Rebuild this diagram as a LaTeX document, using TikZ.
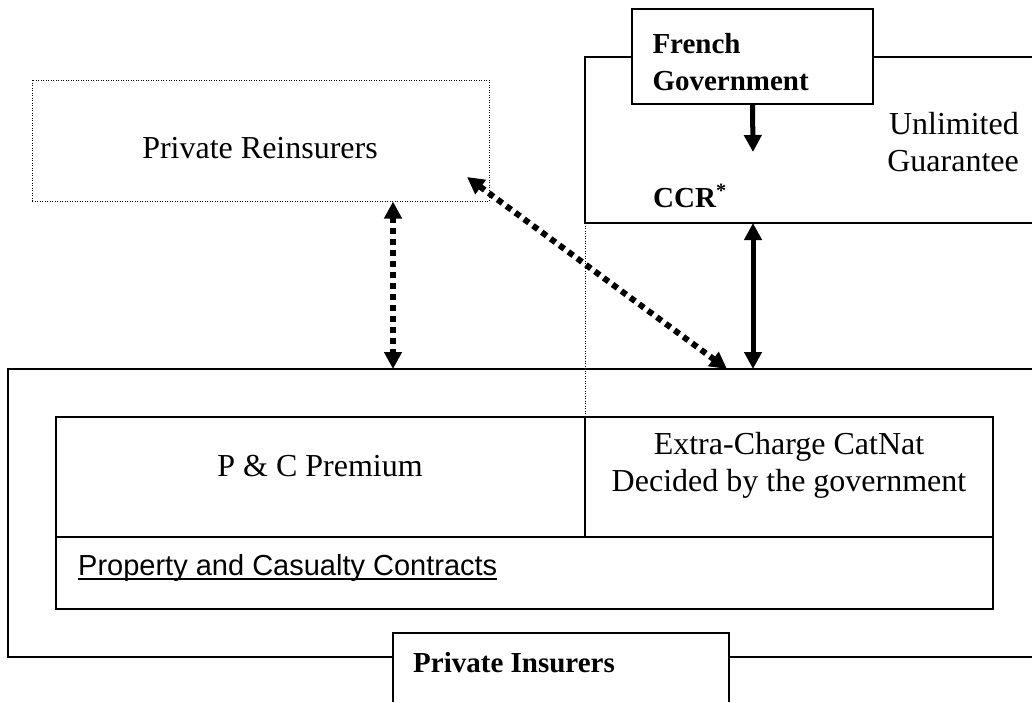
\documentclass[tikz,border=0pt]{standalone}
\usepackage{fontspec}
\setmainfont{Liberation Serif}
\newfontfamily\arialfont{Liberation Sans}
\usetikzlibrary{arrows.meta}

\begin{document}
\begin{tikzpicture}[x=1pt,y=-1pt,
    frame/.style={line width=1.5pt},
    thindot/.style={line width=1pt, dash pattern=on 1pt off 1.5pt},
    txt/.style={font=\fontsize{32}{37}\selectfont, inner sep=0pt},
    boldtxt/.style={font=\fontsize{29}{37}\selectfont\bfseries, inner sep=0pt},
    bigarrow/.style={line width=5pt, -{Triangle[length=17pt,width=17pt]}},
    bothbig/.style={line width=5pt, {Triangle[length=17pt,width=17pt]}-{Triangle[length=17pt,width=17pt]}},
    dotarrow/.style={line width=6pt, dash pattern=on 6pt off 5pt, {Triangle[length=17pt,width=17pt]}-{Triangle[length=17pt,width=17pt]}}]
  \useasboundingbox (0,0) rectangle (1032,702);

  % reinsurers
  \node[draw, thindot, minimum width=457pt, minimum height=121pt, inner sep=0pt] (reins) at (260.5,140.5) {};
  \node[txt, anchor=base] (reinslabel) at (260,158) {Private Reinsurers};

  % CCR and the state
  \draw[frame] (1032,57) -| (585,223) -- (1032,223);
  \node[draw, frame, fill=white, align=left, text width=200pt, inner xsep=20.5pt, inner ysep=0pt,
        minimum height=95pt, font=\fontsize{29}{37}\selectfont\bfseries] (gov) at (752.5,56.5) {\rule{0pt}{31pt}French\\Government};
  \coordinate (govtip) at (753,152);
  \draw[bigarrow] (gov.south) -- (govtip);
  \node[txt, align=right, anchor=east] (guarantee) at (1019,142) {Unlimited\\Guarantee};
  \node[boldtxt, anchor=base west] (ccr) at (653,207) {CCR\textsuperscript{*}};

  % insurers
  \draw[frame] (1032,369) -| (8,657) -- (393,657);
  \draw[frame] (729,657) -- (1032,657);
  \draw[frame] (393,702) |- (729,633) -- (729,702);
  \node[boldtxt, anchor=base west] (insurers) at (413,672) {Private Insurers};

  % contracts
  \draw[frame] (56,417) rectangle (993,609);
  \draw[frame] (56,537) -- (993,537);
  \draw[frame] (585,417) -- (585,537);
  \node[txt, anchor=base] (premium) at (320,476) {P \& C Premium};
  \node[txt, align=center] (extracharge) at (789,465) {Extra-Charge CatNat\\Decided by the government};
  \node[inner sep=0pt, anchor=base west, font=\fontsize{29}{35}\selectfont\arialfont] (contracts) at (78,575) {Property and Casualty Contracts};
  \draw[line width=2pt] (contracts.base west) ++(0,4) -- ([yshift=-4pt]contracts.base east);

  % links
  \coordinate (ccrfoot) at (753,223);
  \coordinate (insccr) at (753,369);
  \coordinate (insreins) at (393,369);
  \coordinate (inscat) at (727,369);
  \coordinate (reinscorner) at (467,177);
  \coordinate (cutfoot) at (585,417);
  \draw[thindot] (585,223) -- (cutfoot);
  \draw[bothbig] (ccrfoot) -- (insccr);
  \draw[dotarrow] (reins.south -| insreins) -- (insreins);
  \draw[dotarrow] (reinscorner) -- (inscat);
\end{tikzpicture}
\end{document}
